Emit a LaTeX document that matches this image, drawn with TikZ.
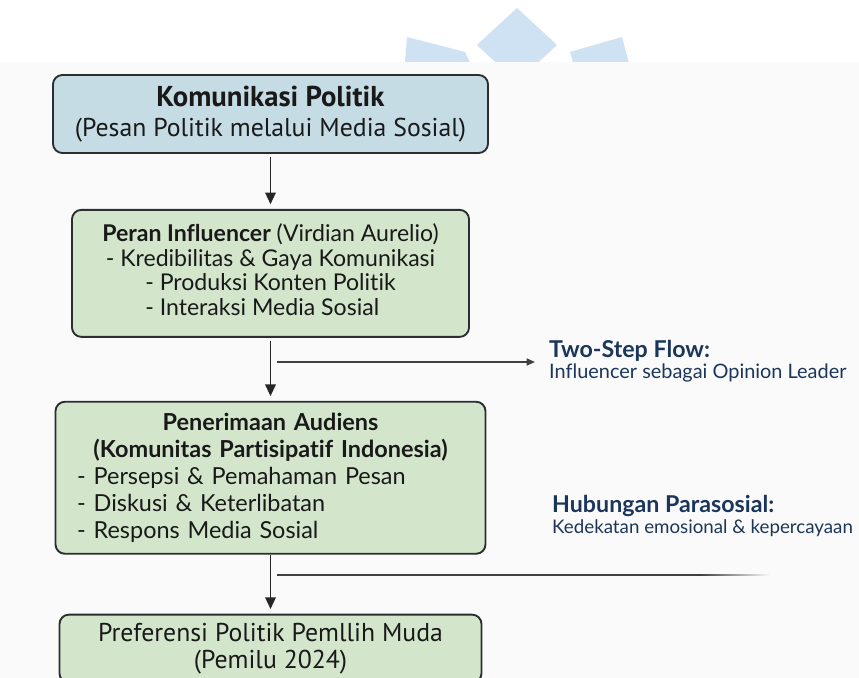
\documentclass[tikz,border=0pt]{standalone}
\usepackage{fontspec}
\setmainfont{Lato}[Ligatures={NoCommon,NoRare}]
\newfontfamily\ptsans{PT Sans}
\usetikzlibrary{arrows.meta, positioning}

\definecolor{bandgray}{HTML}{FAFAFA}
\definecolor{markblue}{HTML}{CFE2F3}
\definecolor{boxblue}{HTML}{C6DCE5}
\definecolor{boxgreen}{HTML}{D3E6CC}
\definecolor{boxline}{HTML}{2A2E2E}
\definecolor{navy}{HTML}{1B365A}

\newcommand{\notehead}[1]{{\fontsize{19.8}{18}\selectfont\bfseries #1}}

\begin{document}
\begin{tikzpicture}[
						x=0.03cm, y=-0.03cm,
						node distance={16mm},
						>={Triangle[width=9pt,length=10pt]},
						blok/.style = {draw=boxline, line width=1.6pt, rounded corners=8pt, text=black!90, inner sep=0pt},
						bluebox/.style = {blok, fill=boxblue, align=center, font=\ptsans\fontsize{22}{25}\selectfont},
						greenbox/.style = {blok, fill=boxgreen, font=\fontsize{19.7}{21.8}\selectfont},
						ptbox/.style = {blok, fill=boxgreen, align=center, font=\ptsans\fontsize{22}{23.5}\selectfont},
						flow/.style = {->, line width=1.5pt, draw=black!85, shorten >=4pt, shorten <=3pt},
						branch/.style = {line width=1.2pt, draw=black!75},
						sidenote/.style = {anchor=west, align=left, inner sep=0pt, text=navy, font=\fontsize{17}{18}\selectfont}
					]
\useasboundingbox (0,0) rectangle (859,678);
\fill[white] (0,0) rectangle (859,678);

% logo in the background, cut by the grey band
\fill[markblue] (407,37) -- (465,52) -- (476,75) -- (404,75) -- cycle;
\fill[markblue] (517,8) -- (557,45) -- (517,82) -- (477,45) -- cycle;
\fill[markblue] (570,52) -- (622,37) -- (632,75) -- (577,75) -- cycle;
\fill[bandgray] (0,62) rectangle (859,678);

\node[bluebox, minimum width=13.05cm, minimum height=2.34cm] (kom) at (270.5,114)
	{{\fontsize{24.5}{25}\selectfont\textbf{Komunikasi Politik}}\\(Pesan Politik melalui Media Sosial)};
\node[greenbox, align=center, minimum width=11.91cm, minimum height=3.81cm] (peran) [below=1.65cm of kom]
	{\textbf{Peran Influencer} (Virdian Aurelio)\\
	 - Kredibilitas \& Gaya Komunikasi\\
	 \begin{tabular}{@{}l@{}}- Produksi Konten Politik\\- Interaksi Media Sosial\end{tabular}};
\node[greenbox, align=left, text width=11.6cm, minimum width=12.9cm, minimum height=4.56cm,
	font=\fontsize{20}{23}\selectfont] (audiens) [below=1.89cm of peran]
	{{\centering\textbf{Penerimaan Audiens}\\\textbf{(Komunitas Partisipatif Indonesia)}\par}
	 - Persepsi \& Pemahaman Pesan\\
	 - Diskusi \& Keterlibatan\\
	 - Respons Media Sosial};
\node[ptbox, minimum width=12.66cm, minimum height=2.04cm] (pref) [below=1.77cm of audiens]
	{Preferensi Politik Pemllih Muda\\(Pemilu 2024)\vphantom{y}};

\node[sidenote] (twostep) at (549,361)
	{\notehead{Two-Step Flow:}\\Influencer sebagai Opinion Leader};
\node[sidenote] (parasos) at (552,516)
	{\notehead{Hubungan Parasosial:}\\{\fontsize{16}{18}\selectfont Kedekatan emosional \& kepercayaan}};

\coordinate (tsfrom) at (277,362);
\coordinate (psfrom) at (277,575);
\coordinate (psfade) at (700,575);

\draw[flow] (kom) -- (peran);
\draw[flow] (peran) -- (audiens);
\draw[flow, shorten <=0pt] (audiens) -- (pref);
\draw[branch, ->, >={Triangle[width=6pt,length=7pt]}] (tsfrom) -- ([xshift=-12pt]tsfrom -| twostep.west);
\draw[branch] (psfrom) -- (psfade);
\shade[left color=black!75, right color=bandgray] (700,574.3) rectangle (770,575.7);
\end{tikzpicture}
\end{document}
